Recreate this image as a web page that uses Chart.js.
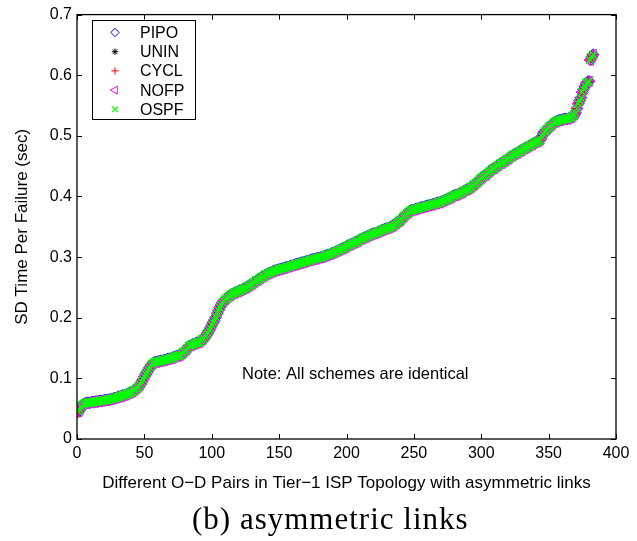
<!DOCTYPE html>
<html>
<head>
<meta charset="utf-8">
<script src="https://cdn.jsdelivr.net/npm/chart.js@4"></script>
<style>
  html, body { margin: 0; padding: 0; background: #fff; }
  #wrap { width: 637px; height: 541px; }
</style>
</head>
<body>
<div id="wrap"><canvas id="sdChart" width="637" height="541"></canvas></div>
<script>
// --- DATA ---
// SD time per failure for each O-D pair (sorted).
// All five schemes give the same values, so one array feeds every series.
const sdTime = [
  0.045, 0.048, 0.053, 0.056, 0.058, 0.059, 0.059, 0.060, 0.060, 0.060,
  0.061, 0.061, 0.061, 0.062, 0.062, 0.062, 0.063, 0.063, 0.063, 0.064,
  0.064, 0.064, 0.065, 0.065, 0.066, 0.066, 0.067, 0.068, 0.068, 0.069,
  0.070, 0.070, 0.071, 0.072, 0.072, 0.073, 0.074, 0.075, 0.076, 0.077,
  0.078, 0.080, 0.081, 0.083, 0.085, 0.087, 0.090, 0.094, 0.098, 0.103,
  0.107, 0.110, 0.114, 0.118, 0.122, 0.124, 0.126, 0.127, 0.127, 0.128,
  0.128, 0.129, 0.129, 0.130, 0.130, 0.131, 0.132, 0.132, 0.133, 0.133,
  0.134, 0.135, 0.136, 0.137, 0.137, 0.138, 0.139, 0.141, 0.143, 0.145,
  0.147, 0.150, 0.153, 0.154, 0.155, 0.156, 0.157, 0.158, 0.159, 0.159,
  0.160, 0.162, 0.164, 0.166, 0.169, 0.172, 0.175, 0.179, 0.183, 0.188,
  0.192, 0.196, 0.201, 0.207, 0.212, 0.217, 0.221, 0.225, 0.228, 0.230,
  0.232, 0.234, 0.236, 0.237, 0.239, 0.240, 0.241, 0.242, 0.243, 0.244,
  0.245, 0.246, 0.247, 0.248, 0.249, 0.250, 0.252, 0.253, 0.255, 0.256,
  0.258, 0.259, 0.261, 0.262, 0.264, 0.265, 0.267, 0.268, 0.269, 0.271,
  0.272, 0.273, 0.274, 0.275, 0.276, 0.277, 0.278, 0.278, 0.279, 0.280,
  0.280, 0.281, 0.282, 0.282, 0.283, 0.284, 0.284, 0.285, 0.286, 0.286,
  0.287, 0.288, 0.288, 0.289, 0.290, 0.290, 0.291, 0.292, 0.292, 0.293,
  0.294, 0.294, 0.295, 0.296, 0.296, 0.297, 0.297, 0.298, 0.299, 0.299,
  0.300, 0.300, 0.301, 0.302, 0.303, 0.304, 0.304, 0.305, 0.306, 0.307,
  0.308, 0.309, 0.310, 0.311, 0.312, 0.313, 0.314, 0.315, 0.316, 0.318,
  0.319, 0.320, 0.321, 0.322, 0.323, 0.324, 0.325, 0.326, 0.327, 0.329,
  0.330, 0.331, 0.332, 0.333, 0.334, 0.335, 0.336, 0.337, 0.338, 0.339,
  0.339, 0.340, 0.341, 0.342, 0.343, 0.344, 0.345, 0.346, 0.347, 0.347,
  0.348, 0.349, 0.350, 0.351, 0.352, 0.354, 0.356, 0.358, 0.359, 0.361,
  0.363, 0.366, 0.368, 0.370, 0.372, 0.374, 0.376, 0.377, 0.378, 0.378,
  0.379, 0.380, 0.380, 0.381, 0.382, 0.382, 0.383, 0.383, 0.384, 0.385,
  0.385, 0.386, 0.386, 0.387, 0.388, 0.388, 0.389, 0.390, 0.390, 0.391,
  0.392, 0.393, 0.394, 0.395, 0.396, 0.397, 0.398, 0.399, 0.401, 0.402,
  0.402, 0.403, 0.404, 0.405, 0.406, 0.407, 0.409, 0.410, 0.411, 0.412,
  0.413, 0.415, 0.416, 0.418, 0.420, 0.422, 0.424, 0.426, 0.428, 0.430,
  0.432, 0.434, 0.435, 0.437, 0.439, 0.441, 0.443, 0.445, 0.446, 0.447,
  0.449, 0.451, 0.452, 0.454, 0.455, 0.456, 0.458, 0.459, 0.461, 0.462,
  0.464, 0.466, 0.467, 0.469, 0.470, 0.471, 0.472, 0.474, 0.475, 0.476,
  0.478, 0.479, 0.480, 0.481, 0.483, 0.484, 0.485, 0.486, 0.488, 0.489,
  0.490, 0.491, 0.492, 0.494, 0.499, 0.504, 0.507, 0.509, 0.511, 0.514,
  0.516, 0.518, 0.520, 0.522, 0.523, 0.524, 0.525, 0.526, 0.526, 0.527,
  0.527, 0.528, 0.528, 0.528, 0.529, 0.530, 0.531, 0.533, 0.535, 0.538,
  0.545, 0.553, 0.558, 0.563, 0.572, 0.577, 0.582, 0.587, 0.589, 0.590,
  0.625, 0.630, 0.634
];

const schemeNames = ['PIPO', 'UNIN', 'CYCL', 'NOFP', 'OSPF'];
const schemeColors = ['#0000ff', '#000000', '#ff0000', '#ff00ff', '#00ff00'];
const schemeMarkers = ['rectRot', 'star', 'cross', 'triangle', 'crossRot'];

const xTickLabels = ['0', '50', '100', '150', '200', '250', '300', '350', '400'];
const yTickLabels = ['0', '0.1', '0.2', '0.3', '0.4', '0.5', '0.6', '0.7'];

const xTitle = 'Different O\u2212D Pairs in Tier\u22121 ISP Topology with asymmetric links';
const yTitle = 'SD Time Per Failure (sec)';
const noteText = 'Note: All schemes are identical';
const captionText = '(b) asymmetric links';

// --- STYLE ---
const FONT = 'Liberation Sans, Arial, Helvetica, sans-serif';
// r = radius on the plot, lr = radius in the legend
const markerStyle = {
  rectRot:  { r: 5.8, lr: 4.2, rotation: 0,   fill: 'rgba(0,0,0,0)', width: 1 },
  star:     { r: 4.2, lr: 3.2, rotation: 0,   fill: null,            width: 1 },
  cross:    { r: 5.0, lr: 3.6, rotation: 0,   fill: null,            width: 1 },
  triangle: { r: 6.2, lr: 4.6, rotation: -90, fill: 'rgba(0,0,0,0)', width: 1 },
  crossRot: { r: 5.8, lr: 4.0, rotation: 0,   fill: null,            width: 1.2 }
};

const datasets = schemeNames.map((name, k) => {
  const m = markerStyle[schemeMarkers[k]];
  return {
    label: name,
    data: sdTime.map((v, i) => ({ x: i + 1, y: v })),
    showLine: false,
    pointStyle: schemeMarkers[k],
    pointRadius: m.r,
    pointRotation: m.rotation,
    pointBorderWidth: m.width,
    pointBorderColor: schemeColors[k],
    pointBackgroundColor: m.fill || schemeColors[k],
    pointHoverRadius: m.r,
    order: schemeNames.length - k   // last scheme drawn on top, like MATLAB
  };
});

// --- MATLAB-ish frame, legend, note and caption ---
const matlabFrame = {
  id: 'matlabFrame',
  afterDraw(chart) {
    const ctx = chart.ctx;
    const a = chart.chartArea;
    const xs = chart.scales.x, ys = chart.scales.y;
    ctx.save();
    ctx.strokeStyle = '#000';
    ctx.lineWidth = 1.3;
    ctx.strokeRect(a.left, a.top, a.right - a.left, a.bottom - a.top);

    // inward ticks on all four sides
    ctx.lineWidth = 1;
    const tl = 5;
    ctx.beginPath();
    xs.ticks.forEach(t => {
      const px = Math.round(xs.getPixelForValue(t.value)) + 0.5;
      ctx.moveTo(px, a.bottom); ctx.lineTo(px, a.bottom - tl);
      ctx.moveTo(px, a.top); ctx.lineTo(px, a.top + tl);
    });
    ys.ticks.forEach(t => {
      const py = Math.round(ys.getPixelForValue(t.value)) + 0.5;
      ctx.moveTo(a.left, py); ctx.lineTo(a.left + tl, py);
      ctx.moveTo(a.right, py); ctx.lineTo(a.right - tl, py);
    });
    ctx.stroke();

    // legend box
    const box = { x: 92, y: 20, w: 103, h: 99 };
    ctx.fillStyle = '#fff';
    ctx.fillRect(box.x, box.y, box.w, box.h);
    ctx.strokeStyle = '#000';
    ctx.lineWidth = 1;
    ctx.strokeRect(box.x + 0.5, box.y + 0.5, box.w, box.h);
    ctx.font = '16px ' + FONT;
    ctx.textBaseline = 'middle';
    ctx.textAlign = 'left';
    chart.data.datasets.forEach((ds, k) => {
      const cy = 32.5 + k * 19.2;
      const m = markerStyle[ds.pointStyle];
      ctx.strokeStyle = ds.pointBorderColor;
      ctx.fillStyle = ds.pointBackgroundColor;
      ctx.lineWidth = ds.pointBorderWidth;
      Chart.helpers.drawPoint(ctx, {
        pointStyle: ds.pointStyle,
        radius: m.lr,
        rotation: ds.pointRotation,
        borderWidth: ds.pointBorderWidth
      }, 115, cy);
      ctx.fillStyle = '#000';
      ctx.fillText(ds.label, 140, cy + 1);
    });

    // note
    ctx.font = '16.5px ' + FONT;
    ctx.fillStyle = '#000';
    ctx.textAlign = 'left';
    ctx.textBaseline = 'middle';
    ctx.fillText(noteText, 242, 374);

    // caption under the figure
    ctx.font = '31px "Liberation Serif", "Times New Roman", serif';
    ctx.textAlign = 'left';
    ctx.textBaseline = 'alphabetic';
    if ('letterSpacing' in ctx) ctx.letterSpacing = '1px';
    ctx.fillText(captionText, 192, 529);
    ctx.restore();
  }
};

const ctxSd = document.getElementById('sdChart').getContext('2d');
new Chart(ctxSd, {
  type: 'scatter',
  data: { datasets },
  options: {
    responsive: false,
    animation: false,
    events: [],
    layout: { padding: { left: 0, right: 21, top: 12, bottom: 40 } },
    plugins: { legend: { display: false }, tooltip: { enabled: false } },
    scales: {
      x: {
        type: 'linear', min: 0, max: 400,
        afterFit: s => { s.height = 62; },
        grid: { display: false, drawTicks: false },
        border: { display: false },
        ticks: {
          stepSize: 50, padding: 5, color: '#000',
          font: { family: FONT, size: 16 },
          maxRotation: 0,
          callback: (v, i) => xTickLabels[i]
        },
        title: {
          display: true, text: xTitle, color: '#000',
          font: { family: FONT, size: 17 },
          padding: { top: 0, bottom: 7 }
        }
      },
      y: {
        type: 'linear', min: 0, max: 0.7,
        afterFit: s => { s.width = 77; },
        grid: { display: false, drawTicks: false },
        border: { display: false },
        ticks: {
          stepSize: 0.1, padding: 5, color: '#000',
          font: { family: FONT, size: 16 },
          callback: (v, i) => yTickLabels[i]
        },
        title: {
          display: true, text: yTitle, color: '#000',
          font: { family: FONT, size: 17 },
          padding: { top: 12, bottom: 0 }
        }
      }
    }
  },
  plugins: [matlabFrame]
});
</script>
</body>
</html>
